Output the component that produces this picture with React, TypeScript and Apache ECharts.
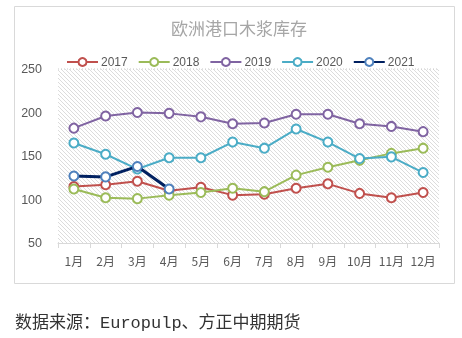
import React, { useEffect, useRef } from "react";
import * as echarts from "echarts";

const categories = ["1月", "2月", "3月", "4月", "5月", "6月", "7月", "8月", "9月", "10月", "11月", "12月"];
const years = ["2017", "2018", "2019", "2020", "2021"];
const v2017 = [115, 117, 121, 110, 114, 105, 106, 113, 118, 107, 102, 108];
const v2018 = [112, 102, 101, 105, 108, 113, 109, 128, 137, 145, 153, 159];
const v2019 = [182, 196, 200, 199, 195, 187, 188, 198, 198, 187, 184, 178];
const v2020 = [165, 152, 135, 148, 148, 166, 159, 181, 166, 147, 149, 131];
const v2021 = [127, 126, 138, 112];
const yTicks = { min: 50, max: 250, interval: 50 };
const titleText = "欧洲港口木浆库存";
const sourceText = "数据来源：Europulp、方正中期期货";

function makeHatch(): string {
  const c = document.createElement("canvas");
  c.width = 4;
  c.height = 4;
  const ctx = c.getContext("2d")!;
  ctx.fillStyle = "#ffffff";
  ctx.fillRect(0, 0, 4, 4);
  ctx.fillStyle = "#dcdcdc";
  for (let i = 0; i < 4; i++) ctx.fillRect(i, i, 1, 1);
  return c.toDataURL();
}

export default function App() {
  const ref = useRef<HTMLDivElement>(null);
  useEffect(() => {
    const chart = echarts.init(ref.current!, undefined, { renderer: "svg" });
    const lineColors = ["#c0504d", "#9bbb59", "#8064a2", "#4bacc6", "#002060"];
    const markColors = ["#c0504d", "#9bbb59", "#8064a2", "#4bacc6", "#4f81bd"];
    const data = [v2017, v2018, v2019, v2020, v2021];
    const series = years.map((y, i) => ({
      name: y,
      type: "line",
      data: data[i],
      symbol: "circle",
      symbolSize: 9,
      lineStyle: { color: lineColors[i], width: i === 4 ? 3 : 2 },
      itemStyle: { color: "#ffffff", borderColor: markColors[i], borderWidth: 2 },
      z: 2 + i,
    }));
    chart.setOption({
      animation: false,
      title: {
        text: titleText,
        left: 234,
        textAlign: "center",
        top: 14,
        textStyle: { color: "#a6a6a6", fontSize: 17, fontWeight: "normal", fontFamily: "Noto Sans CJK SC" },
      },
      legend: {
        data: years,
        top: 51,
        left: 61,
        itemWidth: 31,
        itemHeight: 10,
        itemGap: 10,
        textStyle: { color: "#595959", fontSize: 12, fontFamily: "Liberation Sans", padding: [0, 0, 0, -2] },
      },
      grid: {
        left: 58,
        right: 23,
        top: 69,
        bottom: 95,
        show: true,
        borderWidth: 0,
        backgroundColor: { image: makeHatch(), repeat: "repeat" } as any,
      },
      xAxis: {
        type: "category",
        data: categories,
        boundaryGap: true,
        axisLine: { lineStyle: { color: "#d9d9d9", width: 1 } },
        axisTick: { show: true, length: 5, interval: 0, lineStyle: { color: "#d9d9d9" } },
        axisLabel: { color: "#595959", fontSize: 12, margin: 11, interval: 0, fontFamily: "Noto Sans CJK SC" },
      },
      yAxis: {
        type: "value",
        min: yTicks.min,
        max: yTicks.max,
        interval: yTicks.interval,
        axisLine: { show: false },
        axisTick: { show: false },
        axisLabel: { color: "#595959", fontSize: 12.5, margin: 16, fontFamily: "Liberation Sans" },
        splitLine: { show: false },
      },
      graphic: [
        {
          type: "rect",
          shape: { x: 14.5, y: 6.5, width: 440, height: 277 },
          style: { fill: "none", stroke: "#d9d9d9", lineWidth: 1 },
          z: -10,
        },
        {
          type: "line",
          shape: { x1: 58, y1: 69, x2: 439, y2: 69 },
          style: { stroke: "#c8c8c8", lineWidth: 1, lineDash: [1, 2] },
          z: 1,
        },
        {
          type: "text",
          x: 15,
          y: 323,
          style: {
            text: sourceText,
            fill: "#333333",
            fontSize: 17,
            fontFamily: "Liberation Mono, Noto Sans CJK SC",
            textVerticalAlign: "middle",
          },
        },
      ],
      series,
    });
    return () => chart.dispose();
  }, []);
  return <div ref={ref} style={{ position: "fixed", left: 0, top: 0, width: 462, height: 338 }} />;
}
